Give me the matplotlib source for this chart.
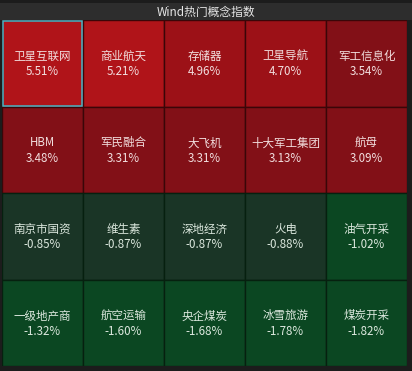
import matplotlib
matplotlib.use("Agg")
import matplotlib.pyplot as plt
from matplotlib.patches import Rectangle

plt.rcParams['font.family'] = ['Noto Sans CJK SC', 'DejaVu Sans']

names = ['卫星互联网', '商业航天', '存储器', '卫星导航', '军工信息化',
         'HBM', '军民融合', '大飞机', '十大军工集团', '航母',
         '南京市国资', '维生素', '深地经济', '火电', '油气开采',
         '一级地产商', '航空运输', '央企煤炭', '冰雪旅游', '煤炭开采']
changes = [5.51, 5.21, 4.96, 4.70, 3.54,
           3.48, 3.31, 3.31, 3.13, 3.09,
           -0.85, -0.87, -0.87, -0.88, -1.02,
           -1.32, -1.60, -1.68, -1.78, -1.82]
n_cols = 5
title = 'Wind热门概念指数'


def cell_color(v):
    if v >= 5:
        return '#b01419'
    if v >= 4:
        return '#9c1117'
    if v >= 0:
        return '#821017'
    if v > -1:
        return '#1a3526'
    return '#0b4722'


fig = plt.figure(figsize=(4.12, 3.71), dpi=100)
fig.patch.set_facecolor('#1c1c1c')

# title bar
tax = fig.add_axes([0, 1 - 20 / 371, 1, 17 / 371])
tax.set_facecolor('#2d2d2d')
tax.set_xticks([])
tax.set_yticks([])
for s in tax.spines.values():
    s.set_visible(False)
tax.text(0.5, 0.45, title, ha='center', va='center', color='#e6e6e6',
         fontsize=8.5, transform=tax.transAxes)

# heatmap grid
ax = fig.add_axes([2 / 412, 5 / 371, 405 / 412, 346 / 371])
ax.set_facecolor('#111111')
n_rows = len(names) // n_cols
ax.set_xlim(0, n_cols)
ax.set_ylim(n_rows, 0)
ax.axis('off')

for i, (nm, v) in enumerate(zip(names, changes)):
    r, c = divmod(i, n_cols)
    fc = cell_color(v)
    ec = '#3a0608' if v >= 0 else '#06200f'
    ax.add_patch(Rectangle((c, r), 1, 1, facecolor=fc, edgecolor=ec, lw=1))
    tc = '#f2dede' if v >= 0 else '#dce8de'
    ax.text(c + 0.5, r + 0.42, nm, ha='center', va='center', color=tc, fontsize=8.3)
    ax.text(c + 0.5, r + 0.6, f'{v:.2f}%', ha='center', va='center', color=tc, fontsize=8.3)

# highlight of the selected cell
ax.add_patch(Rectangle((0.008, 0.008), 0.984, 0.984, facecolor='none',
                       edgecolor='#45b5c5', lw=1.1))

fig.savefig('out.png', dpi=100, facecolor=fig.get_facecolor())
